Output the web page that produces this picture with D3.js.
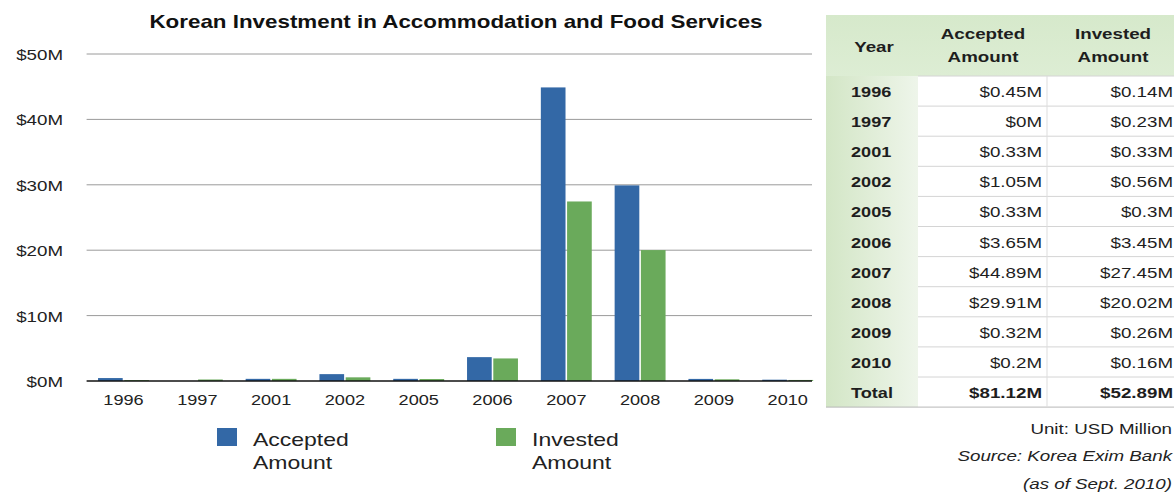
<!DOCTYPE html>
<html>
<head>
<meta charset="utf-8">
<script src="https://cdn.jsdelivr.net/npm/d3@7"></script>
<style>
  html, body { margin: 0; padding: 0; background: #fff; }
  svg { display: block; font-family: "Liberation Sans", Arial, Helvetica, sans-serif; }
</style>
</head>
<body>
<svg id="chart" width="1174" height="494"></svg>
<script>
// Korean investment in accommodation and food services (USD million)
const years = ["1996", "1997", "2001", "2002", "2005", "2006", "2007", "2008", "2009", "2010"];
const accepted = [0.45, 0, 0.33, 1.05, 0.33, 3.65, 44.89, 29.91, 0.32, 0.2];
const invested = [0.14, 0.23, 0.33, 0.56, 0.3, 3.45, 27.45, 20.02, 0.26, 0.16];
const totals = { accepted: 81.12, invested: 52.89 };
const seriesNames = ["Accepted Amount", "Invested Amount"];
const seriesColors = ["#3368a6", "#6aaa5b"];
const yTicks = [0, 10, 20, 30, 40, 50];

const svg = d3.select("#chart");
const fmt = v => "$" + (+v.toFixed(2)) + "M";
// text is set in a slightly widened face
const SX = 1.21;
const place = (X, Y) => `translate(${X},${Y}) scale(${SX},1)`;

// ---- bar chart ----
const plot = { left: 86.6, right: 824.6, top: 54, bottom: 381, lineEnd: 812 };

const x = d3.scaleBand().domain(years)
  .range([plot.left, plot.right])
  .paddingInner(0.31).paddingOuter(0.155);
const xs = d3.scaleBand().domain([0, 1])
  .range([0, x.bandwidth()]).paddingInner(0.06);
const y = d3.scaleLinear().domain([0, 50]).range([plot.bottom, plot.top]);

svg.append("text")
  .attr("transform", place(456, 28))
  .attr("text-anchor", "middle")
  .attr("font-size", 18.5).attr("font-weight", "bold").attr("fill", "#111")
  .text("Korean Investment in Accommodation and Food Services");

// horizontal grid + y labels
const yAxis = svg.append("g");
yAxis.selectAll("line.grid").data(yTicks.filter(t => t > 0)).join("line")
  .attr("class", "grid")
  .attr("x1", plot.left).attr("x2", plot.lineEnd)
  .attr("y1", d => y(d)).attr("y2", d => y(d))
  .attr("stroke", "#9a9a9a").attr("stroke-width", 1);
yAxis.selectAll("text").data(yTicks).join("text")
  .attr("transform", d => place(63, y(d) + 6))
  .attr("text-anchor", "end")
  .attr("font-size", 15.5).attr("fill", "#222")
  .text(d => "$" + d + "M");

// bars
const rows = years.map((yr, i) => ({ year: yr, vals: [accepted[i], invested[i]] }));
const groups = svg.append("g").selectAll("g").data(rows).join("g")
  .attr("transform", d => `translate(${x(d.year)},0)`);
groups.selectAll("rect").data(d => d.vals.map((v, k) => ({ v, k }))).join("rect")
  .attr("x", d => xs(d.k))
  .attr("width", xs.bandwidth())
  .attr("y", d => y(d.v))
  .attr("height", d => y(0) - y(d.v))
  .attr("fill", d => seriesColors[d.k]);

// baseline and x labels
svg.append("line")
  .attr("x1", plot.left).attr("x2", plot.lineEnd)
  .attr("y1", y(0)).attr("y2", y(0))
  .attr("stroke", "#111").attr("stroke-width", 1.6);
svg.append("g").selectAll("text").data(years).join("text")
  .attr("transform", d => place(x(d) + x.bandwidth() / 2, 405))
  .attr("text-anchor", "middle")
  .attr("font-size", 15).attr("fill", "#222")
  .text(d => d);

// legend
const legendPos = [217, 496];
const legend = svg.append("g").selectAll("g").data(seriesNames).join("g")
  .attr("transform", (d, i) => `translate(${legendPos[i]},428)`);
legend.append("rect")
  .attr("width", 20).attr("height", 18)
  .attr("fill", (d, i) => seriesColors[i]);
legend.append("text")
  .attr("transform", place(36, 18))
  .attr("font-size", 19).attr("fill", "#222")
  .selectAll("tspan").data(d => d.split(" ")).join("tspan")
  .attr("x", 0).attr("dy", (d, i) => i === 0 ? 0 : 23)
  .text(d => d);

// ---- data table ----
const tbl = { left: 826, right: 1176, top: 15, headH: 61, rowH: 30.1, col1: 918, col2: 1047 };
const defs = svg.append("defs");
const gYear = defs.append("linearGradient").attr("id", "yearGrad")
  .attr("x1", 0).attr("x2", 1).attr("y1", 0).attr("y2", 0);
gYear.append("stop").attr("offset", 0).attr("stop-color", "#d3e6c6");
gYear.append("stop").attr("offset", 1).attr("stop-color", "#eef5ea");
const gHead = defs.append("linearGradient").attr("id", "headGrad")
  .attr("x1", 0).attr("x2", 0).attr("y1", 0).attr("y2", 1);
gHead.append("stop").attr("offset", 0).attr("stop-color", "#d6e9cb");
gHead.append("stop").attr("offset", 1).attr("stop-color", "#ddedd4");

const tableRows = years.map((yr, i) => ({ year: yr, a: fmt(accepted[i]), b: fmt(invested[i]), bold: false }))
  .concat([{ year: "Total", a: fmt(totals.accepted), b: fmt(totals.invested), bold: true }]);
const bodyTop = tbl.top + tbl.headH;
const bodyBottom = bodyTop + tableRows.length * tbl.rowH;

const T = svg.append("g");
T.append("rect").attr("x", tbl.left).attr("y", tbl.top)
  .attr("width", tbl.right - tbl.left).attr("height", tbl.headH)
  .attr("fill", "url(#headGrad)");
T.append("rect").attr("x", tbl.left).attr("y", bodyTop)
  .attr("width", tbl.col1 - tbl.left).attr("height", bodyBottom - bodyTop)
  .attr("fill", "url(#yearGrad)");

// row separators
T.selectAll("line.row").data(d3.range(tableRows.length + 1)).join("line")
  .attr("class", "row")
  .attr("x1", d => d === tableRows.length ? tbl.left : tbl.col1).attr("x2", tbl.right)
  .attr("y1", d => bodyTop + d * tbl.rowH).attr("y2", d => bodyTop + d * tbl.rowH)
  .attr("stroke", d => d === tableRows.length ? "#b8b8b8" : "#d4d4d4").attr("stroke-width", 1);
T.append("line").attr("x1", tbl.col2).attr("x2", tbl.col2)
  .attr("y1", bodyTop).attr("y2", bodyBottom)
  .attr("stroke", "#dddddd");

// header
const head = [
  { lines: ["Year"], cx: 874 },
  { lines: ["Accepted", "Amount"], cx: 983 },
  { lines: ["Invested", "Amount"], cx: 1113 }
];
head.forEach(h => {
  const t = T.append("text").attr("text-anchor", "middle")
    .attr("font-size", 15.5).attr("font-weight", "bold").attr("fill", "#1e1e1e");
  if (h.lines.length === 1) {
    t.attr("transform", place(h.cx, 52)).append("tspan").attr("x", 0).text(h.lines[0]);
  } else {
    t.attr("transform", place(h.cx, 39));
    h.lines.forEach((l, i) => t.append("tspan").attr("x", 0).attr("y", i * 23).text(l));
  }
});

// body cells
const cells = T.selectAll("g.r").data(tableRows).join("g")
  .attr("class", "r")
  .attr("transform", (d, i) => `translate(0,${bodyTop + i * tbl.rowH + 21})`);
cells.append("text").attr("transform", place(851, 0))
  .attr("font-size", 15).attr("font-weight", "bold")
  .attr("fill", "#1e1e1e").text(d => d.year);
cells.append("text").attr("transform", place(1042, 0))
  .attr("text-anchor", "end").attr("font-size", 15.5)
  .attr("font-weight", d => d.bold ? "bold" : "normal").attr("fill", "#1e1e1e").text(d => d.a);
cells.append("text").attr("transform", place(1173, 0))
  .attr("text-anchor", "end").attr("font-size", 15.5)
  .attr("font-weight", d => d.bold ? "bold" : "normal").attr("fill", "#1e1e1e").text(d => d.b);

// notes
const notes = [
  { t: "Unit: USD Million", y: 434, it: false },
  { t: "Source: Korea Exim Bank", y: 461, it: true },
  { t: "(as of Sept. 2010)", y: 489, it: true }
];
svg.append("g").selectAll("text").data(notes).join("text")
  .attr("transform", d => place(1172, d.y))
  .attr("text-anchor", "end").attr("font-size", 15.5)
  .attr("font-style", d => d.it ? "italic" : "normal").attr("fill", "#222")
  .text(d => d.t);
</script>
</body>
</html>
